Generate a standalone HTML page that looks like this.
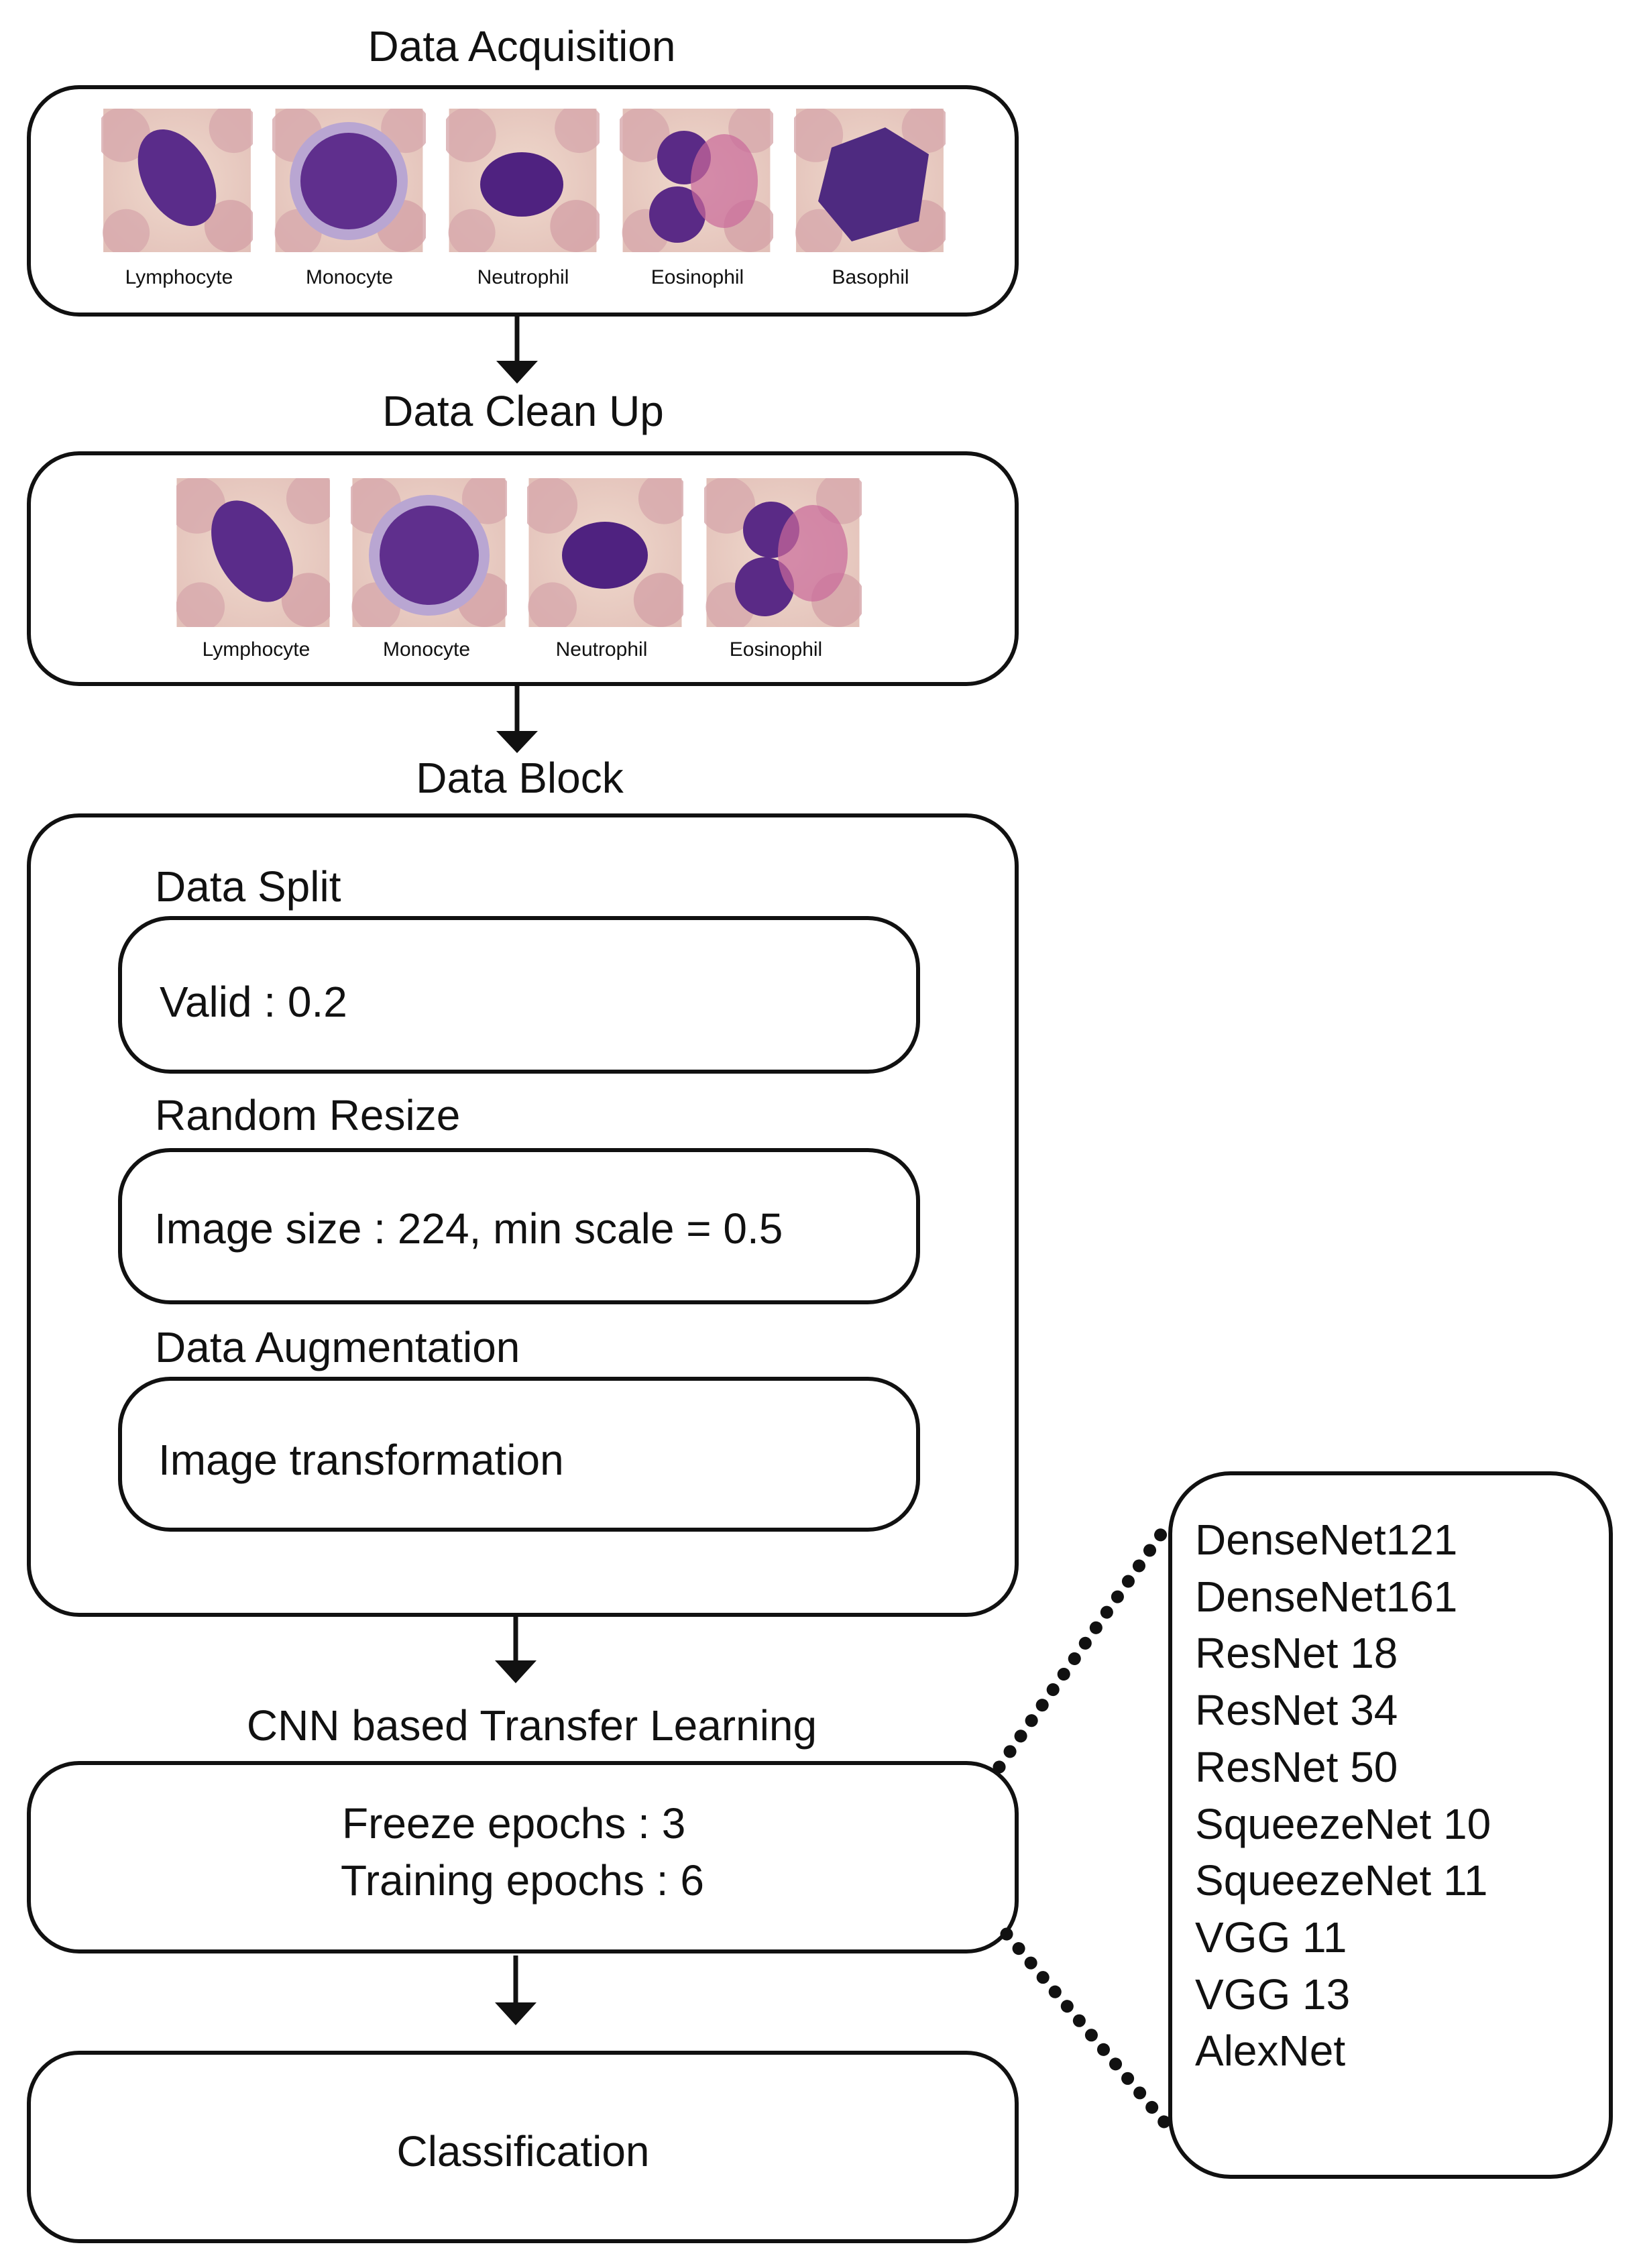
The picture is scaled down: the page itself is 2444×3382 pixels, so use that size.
<!DOCTYPE html>
<html><head><style>html,body{margin:0;padding:0;background:#fff}svg{display:block}text{font-family:"Liberation Sans",sans-serif;fill:#111}</style></head>
<body>
<svg width="2444" height="3382" viewBox="0 0 2444 3382" xmlns="http://www.w3.org/2000/svg">
<defs>
<radialGradient id="bg" cx="50%" cy="50%" r="70%"><stop offset="0" stop-color="#efd9cc"/><stop offset="1" stop-color="#e2bfb8"/></radialGradient>
<symbol id="cell" viewBox="0 0 226 220" overflow="hidden">
<rect x="0" y="0" width="226" height="220" fill="url(#bg)"/>
<circle cx="30" cy="40" r="42" fill="#d7a9ad" opacity=".8"/>
<circle cx="200" cy="30" r="38" fill="#d7a9ad" opacity=".8"/>
<circle cx="195" cy="180" r="40" fill="#d4a3a8" opacity=".8"/>
<circle cx="35" cy="190" r="36" fill="#d7a9ad" opacity=".8"/>
</symbol>
</defs>
<g fill="none" stroke="#111" stroke-width="6">
<rect x="43" y="130" width="1473" height="339" rx="75"/>
<rect x="43" y="676" width="1473" height="344" rx="75"/>
<rect x="43" y="1216" width="1473" height="1192" rx="75"/>
<rect x="179" y="1369" width="1190" height="229" rx="75"/>
<rect x="179" y="1715" width="1190" height="227" rx="75"/>
<rect x="179" y="2056" width="1190" height="225" rx="75"/>
<rect x="43" y="2629" width="1473" height="281" rx="75"/>
<rect x="43" y="3061" width="1473" height="281" rx="75"/>
<rect x="1745" y="2197" width="657" height="1049" rx="90"/>
</g>
<g stroke="#111" stroke-width="7">
<line x1="771" y1="469" x2="771" y2="540"/>
<line x1="771" y1="1022" x2="771" y2="1092"/>
<line x1="769" y1="2410" x2="769" y2="2478"/>
<line x1="769" y1="2916" x2="769" y2="2988"/>
</g>
<g fill="#111">
<polygon points="740,538 802,538 771,572"/>
<polygon points="740,1090 802,1090 771,1123"/>
<polygon points="738,2476 800,2476 769,2510"/>
<polygon points="738,2986 800,2986 769,3020"/>
</g>
<g stroke="#111" stroke-width="19" stroke-linecap="round" stroke-dasharray="0.1 28">
<line x1="1490" y1="2635" x2="1745" y2="2268"/>
<line x1="1501" y1="2884" x2="1745" y2="3175"/>
</g>
<g>
<use href="#cell" x="151" y="162" width="226" height="214"/><ellipse cx="264" cy="265" rx="50" ry="78" transform="rotate(-30 264 265)" fill="#5a2c8a"/>
<use href="#cell" x="406" y="162" width="229" height="214"/><circle cx="520" cy="270" r="88" fill="#b9a6d2"/><circle cx="520" cy="270" r="72" fill="#5f2f8d"/>
<use href="#cell" x="665" y="162" width="229" height="214"/><ellipse cx="778" cy="275" rx="62" ry="48" fill="#4f2280"/>
<use href="#cell" x="924" y="162" width="229" height="214"/><circle cx="1020" cy="235" r="40" fill="#5a2a86"/><circle cx="1010" cy="320" r="42" fill="#5a2a86"/><ellipse cx="1080" cy="270" rx="50" ry="70" fill="#c96a9a" opacity=".7"/>
<use href="#cell" x="1184" y="162" width="226" height="214"/><polygon points="1240,220 1320,190 1385,230 1370,330 1270,360 1220,300" fill="#4e2a80"/>
</g>
<g>
<use href="#cell" x="263" y="713" width="229" height="222"/><ellipse cx="376" cy="822" rx="52" ry="82" transform="rotate(-30 376 822)" fill="#5a2c8a"/>
<use href="#cell" x="523" y="713" width="233" height="222"/><circle cx="640" cy="828" r="90" fill="#b9a6d2"/><circle cx="640" cy="828" r="74" fill="#5f2f8d"/>
<use href="#cell" x="786" y="713" width="233" height="222"/><ellipse cx="902" cy="828" rx="64" ry="50" fill="#4f2280"/>
<use href="#cell" x="1050" y="713" width="235" height="222"/><circle cx="1150" cy="790" r="42" fill="#5a2a86"/><circle cx="1140" cy="875" r="44" fill="#5a2a86"/><ellipse cx="1212" cy="825" rx="52" ry="72" fill="#c96a9a" opacity=".7"/>
</g>
<g font-size="64" text-anchor="middle">
<text x="778" y="91">Data Acquisition</text>
<text x="780" y="635">Data Clean Up</text>
<text x="775" y="1182">Data Block</text>
<text x="793" y="2595">CNN based Transfer Learning</text>
<text x="780" y="3230">Classification</text>
</g>
<g font-size="30" text-anchor="middle">
<text x="267" y="423">Lymphocyte</text><text x="521" y="423">Monocyte</text><text x="780" y="423">Neutrophil</text><text x="1040" y="423">Eosinophil</text><text x="1298" y="423">Basophil</text>
<text x="382" y="978">Lymphocyte</text><text x="636" y="978">Monocyte</text><text x="897" y="978">Neutrophil</text><text x="1157" y="978">Eosinophil</text>
</g>
<g font-size="64">
<text x="231" y="1344">Data Split</text>
<text x="238" y="1516">Valid : 0.2</text>
<text x="231" y="1685">Random Resize</text>
<text x="230" y="1854">Image size : 224, min scale = 0.5</text>
<text x="231" y="2031">Data Augmentation</text>
<text x="236" y="2199">Image transformation</text>
<text x="510" y="2741">Freeze  epochs : 3</text>
<text x="508" y="2826">Training  epochs : 6</text>
</g>
<g font-size="64">
<text x="1782" y="2318">DenseNet121</text>
<text x="1782" y="2403">DenseNet161</text>
<text x="1782" y="2487">ResNet 18</text>
<text x="1782" y="2572">ResNet 34</text>
<text x="1782" y="2657">ResNet 50</text>
<text x="1782" y="2742">SqueezeNet 10</text>
<text x="1782" y="2826">SqueezeNet 11</text>
<text x="1782" y="2911">VGG 11</text>
<text x="1782" y="2996">VGG 13</text>
<text x="1782" y="3080">AlexNet</text>
</g>
</svg>
</body></html>
